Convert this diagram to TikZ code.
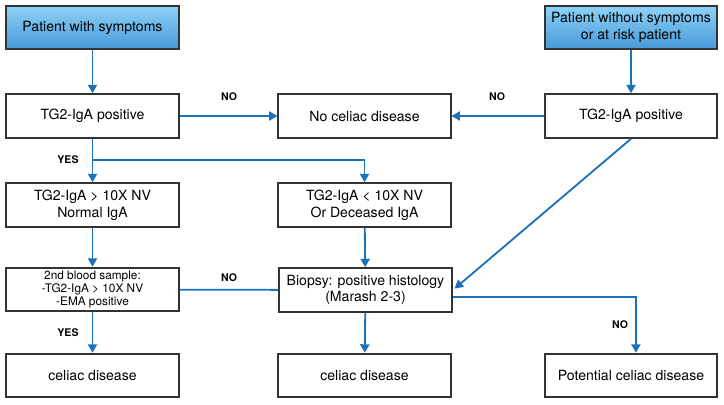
\documentclass[tikz,border=0pt]{standalone}
\usepackage{fontspec}
\setmainfont{TeX Gyre Heros}
\usetikzlibrary{arrows.meta}

\definecolor{arrowblue}{HTML}{1B72BA}
\definecolor{boxline}{HTML}{333333}
\definecolor{toplight}{HTML}{8ED2F7}
\definecolor{topdark}{HTML}{4699D8}

\begin{document}
\begin{tikzpicture}[x=0.025cm, y=-0.025cm,
    box/.style = {draw=boxline, line width=1.4pt, fill=white, minimum width=4.3cm,
                  minimum height=1.09cm, align=center, inner sep=1pt,
                  font={\fontsize{10}{11.8}\selectfont}},
    startbox/.style = {box, top color=toplight, bottom color=topdark},
    arr/.style = {draw=arrowblue, line width=1.3pt, -{Triangle[length=6pt,width=6.5pt]}},
    link/.style = {draw=arrowblue, line width=1.3pt},
    lbl/.style = {font={\fontsize{7.5}{9}\selectfont\bfseries}, black}]
    \useasboundingbox (0,0) rectangle (724,404);

    % top row
    \node[startbox] (symp) at (92.5, 27.5) {Patient with symptoms};
    \node[startbox] (nosymp) at (631, 27.5) {Patient without symptoms\\or at risk patient};

    % serology
    \node[box] (tgleft) at (92.5, 116) {TG2-IgA positive};
    \node[box] (noceliac) at (364.5, 116) {No celiac disease};
    \node[box] (tgright) at (631, 116) {TG2-IgA positive};

    \node[box] (high) at (92.5, 205) {TG2-IgA > 10X NV\\Normal IgA};
    \node[box] (low) at (364.5, 205) {TG2-IgA < 10X NV\\Or Deceased IgA};

    \node[box, font={\fontsize{8.4}{9.4}\selectfont}] (second) at (92.5, 289.5)
        {2nd blood sample:\\-TG2-IgA > 10X NV\\-EMA positive};
    \node[box] (biopsy) at (365.5, 290) {Biopsy: positive histology\\(Marash 2-3)};

    % outcomes
    \node[box] (celleft) at (92.5, 375.5) {celiac disease};
    \node[box] (celmid) at (364.5, 375.5) {celiac disease};
    \node[box] (potential) at (631, 375.5) {Potential celiac disease};

    % connectors
    \draw[arr] (symp) -- (tgleft);
    \draw[arr] (nosymp) -- (tgright);
    \draw[arr] (tgleft) -- (noceliac);
    \draw[arr] (tgright) -- (noceliac);
    \draw[arr] (tgleft) -- (high);
    \coordinate (split) at (92.5, 160);
    \draw[arr] (split) -| (low.north);
    \draw[arr] (high) -- (second);
    \draw[arr] (low) -- (biopsy);
    \draw[arr] (tgright.south) -- ([xshift=1.5pt, yshift=1pt]biopsy.east);
    \draw[link] (second) -- (biopsy);
    \draw[arr] (second) -- (celleft);
    \draw[arr] (biopsy) -- (celmid);
    \draw[arr] ([yshift=-5pt]biopsy.east) -| ([xshift=3.5pt]potential.north);

    % labels
    \node[lbl] (no1) at (229, 97) {NO};
    \node[lbl] (no2) at (497, 97) {NO};
    \node[lbl] (yes1) at (68, 160) {YES};
    \node[lbl] (no3) at (229, 278) {NO};
    \node[lbl] (yes2) at (68, 333) {YES};
    \node[lbl] (no4) at (620, 325) {NO};
\end{tikzpicture}
\end{document}
